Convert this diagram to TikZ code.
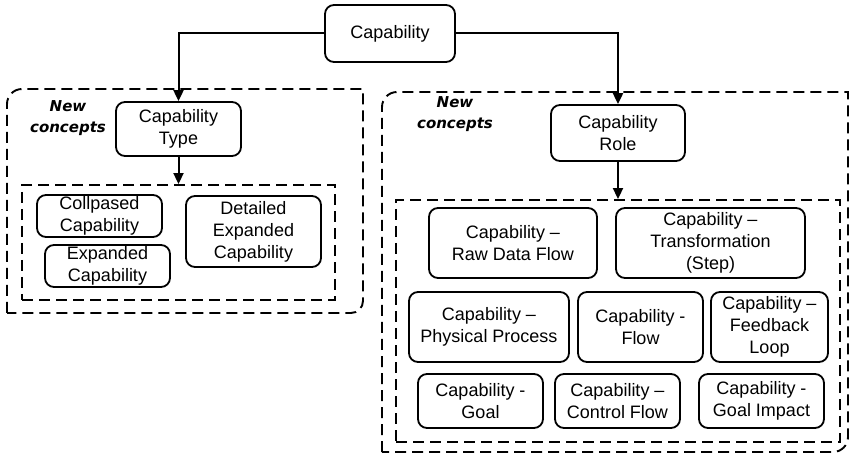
\documentclass[tikz,border=0pt]{standalone}
\usepackage{fontspec}
\setmainfont{Liberation Sans}
\newfontfamily\ncfont{DejaVu Sans}
\usetikzlibrary{arrows.meta}
\begin{document}
\begin{tikzpicture}[x=1pt,y=1pt, font=\fontsize{18}{22}\selectfont,
 box/.style={draw, line width=1.8pt, rounded corners=9pt, align=center, inner sep=0pt},
 dbox/.style={draw, line width=1.9pt, dash pattern=on 11pt off 6pt},
 arr/.style={line width=2pt, -{Triangle[length=11pt,width=10pt]}},
 nc/.style={font=\ncfont\bfseries\itshape\fontsize{15}{21}\selectfont, align=center}]
\useasboundingbox (0,0) rectangle (851,458);

% outer dashed groups
\draw[dbox] (7,145) -- (7,354) arc[start angle=180,end angle=90,radius=15] -- (363,369) -- (363,157) arc[start angle=0,end angle=-90,radius=12] -- cycle;
\draw[dbox] (382,6) -- (382,351) arc[start angle=180,end angle=90,radius=15] -- (848,366) -- (848,21) arc[start angle=0,end angle=-90,radius=15] -- cycle;

% inner dashed groups
\node[dbox, inner sep=0pt, minimum width=313pt, minimum height=115pt] (inL) at (178.5,215.5) {};
\node[dbox, inner sep=0pt, minimum width=444pt, minimum height=242pt] (inR) at (618,137) {};

\node[nc] (nc1) at (68,340) {New\\concepts};
\node[nc] (nc2) at (455,343.5) {New\\concepts};

\node[box, minimum width=130pt, minimum height=57pt] (cap) at (390,424.5) {Capability};
\node[box, minimum width=125pt, minimum height=54pt] (ctype) at (178.5,329) {Capability\\Type};
\node[box, minimum width=134pt, minimum height=56pt] (crole) at (618,325) {Capability\\Role};

\node[box, minimum width=125pt, minimum height=42pt] (coll) at (99.5,242) {Collpased\\Capability};
\node[box, minimum width=125pt, minimum height=42pt] (expd) at (107.5,192) {Expanded\\Capability};
\node[box, minimum width=135pt, minimum height=71pt] (detl) at (253.5,226.5) {Detailed\\Expanded\\Capability};

\node[box, minimum width=168pt, minimum height=70pt] (raw) at (513,215) {Capability –\\Raw Data Flow};
\node[box, minimum width=189pt, minimum height=70pt] (trans) at (710.5,215) {Capability –\\Transformation\\(Step)};
\node[box, minimum width=160pt, minimum height=70pt] (phys) at (489,131) {Capability –\\Physical Process};
\node[box, minimum width=125pt, minimum height=70pt] (flow) at (640.5,131) {Capability -\\Flow};
\node[box, minimum width=117pt, minimum height=70pt] (feed) at (769.5,131) {Capability –\\Feedback\\Loop};
\node[box, minimum width=125pt, minimum height=54pt] (goal) at (480.5,57) {Capability -\\Goal};
\node[box, minimum width=125pt, minimum height=54pt] (ctrl) at (617.5,57) {Capability –\\Control Flow};
\node[box, minimum width=125pt, minimum height=54pt] (gimp) at (761.5,57) {Capability -\\Goal Impact};

\draw[arr] (cap.west) -| (ctype.north);
\draw[arr] (cap.east) -| (crole.north);
\draw[arr] (ctype.south) -- (ctype.south |- inL.north);
\draw[arr] (crole.south) -- (crole.south |- inR.north);
\end{tikzpicture}
\end{document}
